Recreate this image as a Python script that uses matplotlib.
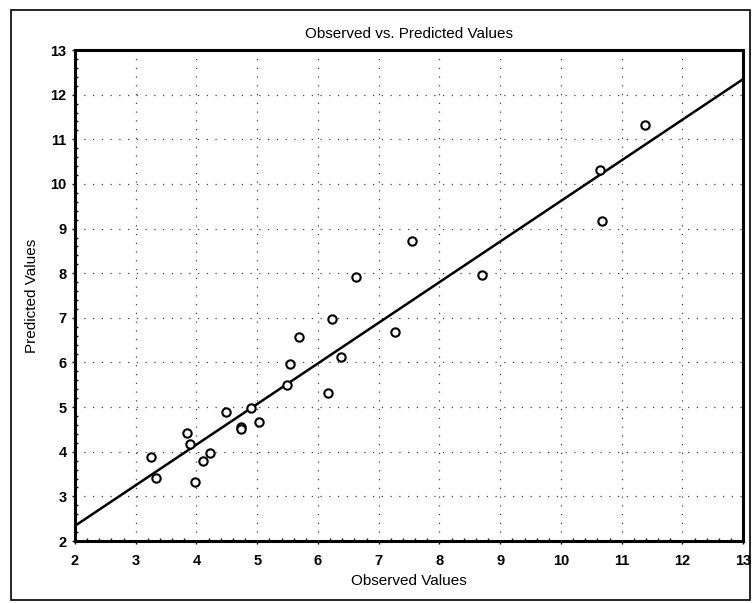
import numpy as np
import matplotlib.pyplot as plt
from matplotlib.patches import Rectangle
from matplotlib.ticker import MultipleLocator

# observed / predicted pairs
observed = [11.38, 10.64, 10.67, 8.70, 7.54, 6.62, 6.23, 5.69, 7.26, 5.54,
            6.38, 5.49, 6.16, 5.03, 4.89, 4.48, 4.74, 4.74, 3.84, 3.90,
            3.25, 4.23, 4.11, 3.33, 3.97]
predicted = [11.33, 10.31, 9.18, 7.95, 8.72, 7.91, 6.98, 6.57, 6.69, 5.96,
             6.12, 5.49, 5.31, 4.67, 4.97, 4.88, 4.56, 4.50, 4.43, 4.18,
             3.88, 3.97, 3.79, 3.41, 3.32]

# fitted line
fit_slope = 0.91
fit_intercept = 0.52
fit_x = [2, 13]

plt.rcParams['font.family'] = ['Liberation Sans', 'DejaVu Sans']

fig = plt.figure(figsize=(7.53, 6.03), dpi=100)
ax = fig.add_axes([0.0996, 0.1028, 0.8874, 0.8142])

ax.grid(True, color='#444444', linestyle=(0, (1, 6)), linewidth=0.9)
ax.set_axisbelow(True)

fit_y = [fit_intercept + fit_slope * v for v in fit_x]
ax.plot(fit_x, fit_y, color='black', linewidth=1.8)
ax.plot(observed, predicted, linestyle='none', marker='o', markersize=6,
        markerfacecolor='white', markeredgecolor='black', markeredgewidth=1.5)

ax.set_xlim(2, 13)
ax.set_ylim(2, 13)
ax.xaxis.set_major_locator(MultipleLocator(1))
ax.yaxis.set_major_locator(MultipleLocator(1))
ax.xaxis.set_minor_locator(MultipleLocator(0.2))
ax.yaxis.set_minor_locator(MultipleLocator(0.2))
ax.tick_params(which='major', direction='out', length=2, width=1,
               labelsize=10.5)
ax.tick_params(axis='x', which='major', pad=7)
ax.tick_params(axis='y', which='major', pad=4)
ax.tick_params(which='minor', direction='in', length=2.5, width=1)
for lbl in ax.get_xticklabels() + ax.get_yticklabels():
    lbl.set_fontweight('bold')

for s in ax.spines.values():
    s.set_linewidth(2.2)

ax.set_title('Observed vs. Predicted Values', fontsize=11, pad=9)
ax.set_xlabel('Observed Values', fontsize=11, labelpad=5)
ax.set_ylabel('Predicted Values', fontsize=11, labelpad=8)

# outer frame round the whole figure
fig.patches.append(Rectangle((0.0146, 0.005), 0.982, 0.978, transform=fig.transFigure,
                             fill=False, edgecolor='black', linewidth=1.2))

fig.savefig('out.png', dpi=100)
